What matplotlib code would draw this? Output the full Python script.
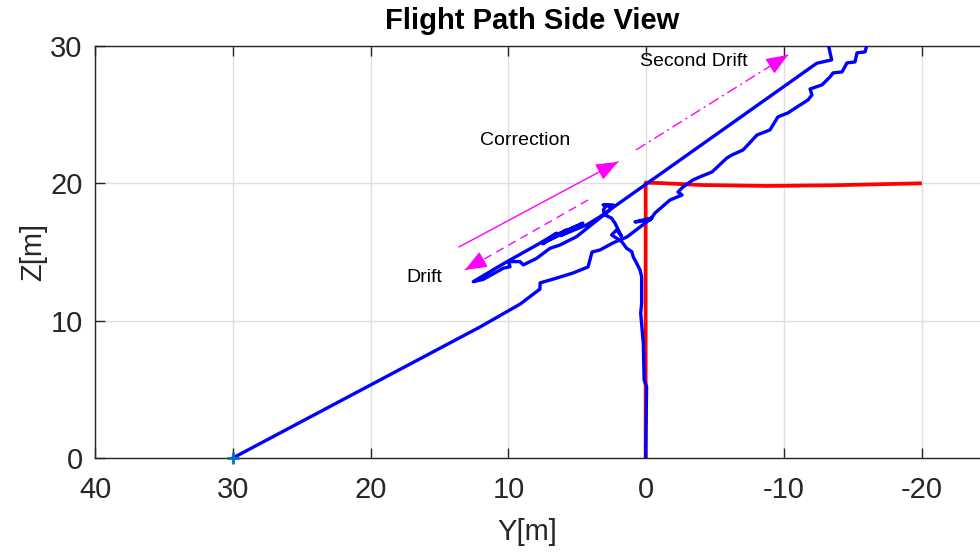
import matplotlib
matplotlib.use("Agg")
import matplotlib.pyplot as plt

plt.rcParams["font.family"] = ["Liberation Sans", "DejaVu Sans"]
plt.rcParams["axes.unicode_minus"] = False

# start point of the flight (marker)
start_y, start_z = 30.0, 0.0

# blue track 1: long climb from the start point
track1_y = [30.0, 12.06, 9.16, 7.71, 7.70, 6.47, 5.31, 4.22, 3.93, 3.35, 2.41, 1.39,
            0.45, -0.42, 0.81, -0.28, -0.64, -1.73, -2.60, -2.31, -2.67, -3.40, -3.90,
            -4.78, -5.86, -6.23, -7.03, -8.04, -8.98, -9.56, -10.29, -10.94, -11.74,
            -12.03, -11.89, -12.76, -13.34, -13.56, -14.21, -14.57, -15.15, -15.30,
            -15.88, -16.02]
track1_z = [0.0, 9.54, 11.20, 12.30, 12.75, 13.11, 13.47, 13.91, 15.00, 15.15, 15.66, 16.10,
            16.82, 17.48, 17.19, 17.33, 17.84, 18.79, 19.15, 19.37, 19.74, 20.25, 20.47,
            20.83, 21.85, 22.07, 22.43, 23.52, 23.89, 24.84, 25.13, 25.56, 26.07,
            26.44, 26.87, 27.17, 27.75, 28.04, 28.11, 28.77, 28.84, 29.50,
            29.57, 30.08]

# blue track 2: vertical takeoff, drift, correction
track2_y = [0.04, -0.03, 0.15, 0.21, 0.40, 0.33, 0.33, 0.45, 0.69, 0.93, 1.05, 1.42, 1.78,
            2.14, 2.51, 2.14, 1.78, 2.26, 2.51, 2.99, 3.11, 2.87, 2.51, 3.13, 2.41, 2.70,
            3.84, 5.05, 6.26, 6.98, 7.95, 8.92, 9.16, 10.00, 9.88, 10.37, 11.82, 12.55,
            10.73, 9.88, 7.71, 6.50, 7.50, 5.80, 7.22, 5.29, 7.00, 5.00, 6.74, 4.60,
            6.20, 4.33, 3.35, -12.37, -13.46, -13.22]
track2_z = [0.0, 5.19, 5.68, 8.35, 10.54, 11.27, 13.20, 13.69, 14.18, 14.62, 15.03, 15.27, 15.76,
            16.00, 16.24, 16.61, 16.12, 17.09, 17.46, 17.70, 18.06, 18.43, 18.30, 18.43, 18.43, 18.00,
            17.09, 16.12, 15.51, 15.27, 14.54, 14.06, 14.30, 14.30, 13.93, 13.82, 13.01, 12.84,
            13.93, 14.42, 15.64, 16.37, 15.60, 16.60, 15.88, 16.73, 15.90, 16.90, 16.12, 17.10,
            16.20, 16.97, 17.57, 28.74, 28.99, 30.08]

# red reference path
ref_y = [0.04, 0.04, -1.0, -3.9, -8.74, -13.58, -19.87]
ref_z = [0.0, 20.05, 20.02, 19.88, 19.81, 19.86, 20.0]

# annotations: label, label position, arrow start, arrow tip, line style
notes = ["Correction", "Drift", "Second Drift"]
note_pos = [(8.8, 23.09), (16.12, 13.11), (-3.47, 28.85)]
arrow_start = [(13.58, 15.37), (4.22, 18.79), (0.74, 22.43)]
arrow_tip = [(2.05, 21.56), (13.15, 13.69), (-10.29, 29.35)]
arrow_ls = ["-", (0, (6, 4)), (0, (8, 3, 1.5, 3))]

magenta = "#FF00FF"
dark = "#262626"

fig = plt.figure(figsize=(9.8, 5.52), dpi=100)
# axes runs past the right edge of the figure
ax = fig.add_axes([95 / 980, 94 / 552, 964.6 / 980, 412 / 552])

ax.plot(ref_y, ref_z, color="#FF0000", lw=2.7, solid_joinstyle="round", zorder=3)
ax.plot(track1_y, track1_z, color="#0000FF", lw=2.4, solid_joinstyle="round", zorder=4)
ax.plot(track2_y, track2_z, color="#0000FF", lw=2.4, solid_joinstyle="round", zorder=4)
ax.plot([start_y], [start_z], "+", color="#0072BD", ms=9, mew=2, clip_on=False, zorder=6)

for text, pos, p0, p1, ls in zip(notes, note_pos, arrow_start, arrow_tip, arrow_ls):
    ax.text(pos[0], pos[1], text, fontsize=14, ha="center", va="center", color="black")
    ax.plot([p0[0], p1[0]], [p0[1], p1[1]], color=magenta, lw=1.0, ls=ls, zorder=5)
    # arrow head only, placed on the end of the line
    back = (p1[0] - 0.05 * (p1[0] - p0[0]), p1[1] - 0.05 * (p1[1] - p0[1]))
    ax.annotate("", xy=p1, xytext=back,
                arrowprops=dict(arrowstyle="-|>,head_length=0.75,head_width=0.3",
                                color=magenta, lw=1.0, mutation_scale=18,
                                shrinkA=0, shrinkB=0),
                zorder=5)

ax.set_xlim(40, -30)
ax.set_ylim(0, 30)
ax.set_xticks([40, 30, 20, 10, 0, -10, -20])
ax.set_yticks([0, 10, 20, 30])
ax.grid(True, color="#DFDFDF", lw=1.0)
ax.set_axisbelow(True)

ax.tick_params(direction="in", length=7, width=1, colors=dark, labelsize=21,
               top=True, right=True)
ax.tick_params(axis="x", pad=13)
ax.tick_params(axis="y", pad=9)
for s in ax.spines.values():
    s.set_color(dark)
    s.set_linewidth(1.0)

ax.set_xlabel("Y[m]", fontsize=21, color=dark)
ax.set_ylabel("Z[m]", fontsize=21, color=dark)
ax.xaxis.set_label_coords((527 - 95) / 964.6, -0.145)
ax.yaxis.set_label_coords(-0.05, 0.5)

fig.text(532 / 980, 1 - 21 / 552, "Flight Path Side View", fontsize=21,
         fontweight="bold", ha="center", va="center", color="black")

fig.savefig("out.png", dpi=100)
